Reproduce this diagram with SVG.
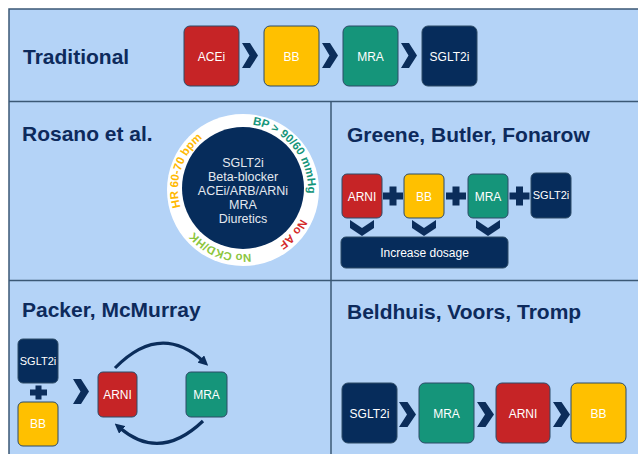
<svg xmlns="http://www.w3.org/2000/svg" xmlns:xlink="http://www.w3.org/1999/xlink" width="638" height="454" viewBox="0 0 638 454">
<style>
.title{font-family:"Liberation Sans",Arial,sans-serif;font-weight:bold;font-size:21px;fill:#0d2a5c}
.box{stroke:#2c4a66;stroke-width:1}
.red{fill:#c62426}
.yel{fill:#ffc000}
.grn{fill:#15957a}
.nav{fill:#062c5b}
.lbl{font-family:"Liberation Sans",Arial,sans-serif;font-size:12px;fill:#ffffff;text-anchor:middle}
.sm{font-size:11px}
.conn{fill:#0b2d5b}
.arc{fill:none;stroke:#0b2d5b;stroke-width:3.2}
.ctext{font-family:"Liberation Sans",Arial,sans-serif;font-size:12.5px;fill:#e3e8ef;text-anchor:middle}
.ring{font-family:"Liberation Sans",Arial,sans-serif;font-size:11.5px;font-weight:bold}
.bp{fill:#15957a}
.af{fill:#d42a2a}
.ckd{fill:#8cc63f}
.hr{fill:#ffb800}
.frame{stroke:#3b5875;stroke-width:1.5;fill:none}
</style>
<defs>
<path id="chev" d="M0,0 L8,0 L16,12.5 L8,25 L0,25 L7.5,12.5 Z"/>
<path id="chevL" d="M0,0 L8.5,0 L17,12.5 L8.5,25 L0,25 L8,12.5 Z"/>
<path id="down" d="M0,0 L12,8 L24,0 L24,8 L12,16 L0,8 Z"/>
<path id="plus" d="M-3.5,-9.5 H3.5 V-3.5 H10 V3.5 H3.5 V9.5 H-3.5 V3.5 H-10 V-3.5 H-3.5 Z"/>
<path id="ringpath" d="M243,124 A65,65 0 1 1 243,254 A65,65 0 1 1 243,124"/>
<marker id="ah" viewBox="0 0 10 10" refX="3" refY="5" markerWidth="10" markerHeight="10" markerUnits="userSpaceOnUse" orient="auto">
<path d="M0,0 L10,5 L0,10 Z" fill="#0b2d5b"/>
</marker>
</defs>
<rect x="0" y="0" width="638" height="454" fill="#ffffff"/>
<rect x="9" y="9" width="640" height="460" fill="#b4d3f7"/>
<g id="frame">
<rect class="frame" x="9" y="9" width="640" height="460"/>
<line class="frame" x1="9" y1="101.5" x2="638" y2="101.5"/>
<line class="frame" x1="9" y1="280.5" x2="638" y2="280.5"/>
<line class="frame" x1="331" y1="101.5" x2="331" y2="454"/>
</g>
<g id="titles">
<text class="title" x="23" y="64">Traditional</text>
<text class="title" x="22" y="141">Rosano et al.</text>
<text class="title" x="347" y="142">Greene, Butler, Fonarow</text>
<text class="title" x="22" y="317">Packer, McMurray</text>
<text class="title" x="347" y="319">Beldhuis, Voors, Tromp</text>
</g>
<g id="trad-acei"><rect class="box red" x="184" y="26" width="55" height="60" rx="6"/><text class="lbl" x="211.5" y="61">ACEi</text></g>
<g id="trad-bb"><rect class="box yel" x="264" y="26" width="55" height="60" rx="6"/><text class="lbl" x="291.5" y="61">BB</text></g>
<g id="trad-mra"><rect class="box grn" x="343" y="26" width="55" height="60" rx="6"/><text class="lbl" x="370.5" y="61">MRA</text></g>
<g id="trad-sglt2i"><rect class="box nav" x="422" y="26" width="55" height="60" rx="6"/><text class="lbl" x="449.5" y="61">SGLT2i</text></g>
<g id="rosano-circle">
<circle cx="243" cy="190" r="76" fill="#ffffff"/>
<circle cx="243" cy="188" r="61" fill="#062c5b"/>
<text class="ctext" x="243" y="167">SGLT2i</text>
<text class="ctext" x="243" y="181">Beta-blocker</text>
<text class="ctext" x="243" y="195">ACEi/ARB/ARNi</text>
<text class="ctext" x="243" y="209">MRA</text>
<text class="ctext" x="243" y="223">Diuretics</text>
<text class="ring bp"><textPath xlink:href="#ringpath" href="#ringpath" startOffset="9.5">BP &gt;</textPath></text>
<text class="ring bp"><textPath xlink:href="#ringpath" href="#ringpath" startOffset="38.6">90/60</textPath></text>
<text class="ring bp"><textPath xlink:href="#ringpath" href="#ringpath" startOffset="70.6">mmHg</textPath></text>
<text class="ring af"><textPath xlink:href="#ringpath" href="#ringpath" startOffset="132.7">No</textPath></text>
<text class="ring af"><textPath xlink:href="#ringpath" href="#ringpath" startOffset="151.2">AF</textPath></text>
<text class="ring ckd"><textPath xlink:href="#ringpath" href="#ringpath" startOffset="195.9">No</textPath></text>
<text class="ring ckd"><textPath xlink:href="#ringpath" href="#ringpath" startOffset="214.4">CKD/HK</textPath></text>
<text class="ring hr"><textPath xlink:href="#ringpath" href="#ringpath" startOffset="287.5">HR</textPath></text>
<text class="ring hr"><textPath xlink:href="#ringpath" href="#ringpath" startOffset="307.3">60-70</textPath></text>
<text class="ring hr"><textPath xlink:href="#ringpath" href="#ringpath" startOffset="339.9">bpm</textPath></text>
</g>
<g id="gbf-arni"><rect class="box red" x="342" y="174" width="40" height="44" rx="5"/><text class="lbl" x="362" y="201">ARNI</text></g>
<g id="gbf-bb"><rect class="box yel" x="404" y="174" width="40" height="44" rx="5"/><text class="lbl" x="424" y="201">BB</text></g>
<g id="gbf-mra"><rect class="box grn" x="468" y="174" width="40" height="44" rx="5"/><text class="lbl" x="488" y="201">MRA</text></g>
<g id="gbf-sglt2i"><rect class="box nav" x="531" y="173" width="40" height="45" rx="5"/><text class="lbl sm" x="551" y="199">SGLT2i</text></g>
<g id="gbf-dosage"><rect class="box nav" x="341" y="237" width="167" height="31" rx="5"/><text class="lbl" x="424.5" y="257">Increase dosage</text></g>
<g id="pm-sglt2i"><rect class="box nav" x="18" y="339" width="40" height="44" rx="5"/><text class="lbl sm" x="38" y="365">SGLT2i</text></g>
<g id="pm-bb"><rect class="box yel" x="18" y="402" width="40" height="44" rx="5"/><text class="lbl" x="38" y="428">BB</text></g>
<g id="pm-arni"><rect class="box red" x="98" y="372" width="39" height="45" rx="5"/><text class="lbl" x="117.5" y="399">ARNI</text></g>
<g id="pm-mra"><rect class="box grn" x="186" y="372" width="41" height="45" rx="5"/><text class="lbl" x="206.5" y="399">MRA</text></g>
<g id="bvt-sglt2i"><rect class="box nav" x="342" y="383" width="55" height="60" rx="6"/><text class="lbl" x="369.5" y="418">SGLT2i</text></g>
<g id="bvt-mra"><rect class="box grn" x="419" y="383" width="55" height="60" rx="6"/><text class="lbl" x="446.5" y="418">MRA</text></g>
<g id="bvt-arni"><rect class="box red" x="496" y="383" width="54" height="60" rx="6"/><text class="lbl" x="523" y="418">ARNI</text></g>
<g id="bvt-bb"><rect class="box yel" x="571" y="383" width="55" height="60" rx="6"/><text class="lbl" x="598.5" y="418">BB</text></g>
<g id="connectors" class="conn">
<use href="#chev" xlink:href="#chev" x="242" y="43"/>
<use href="#chev" xlink:href="#chev" x="322" y="43"/>
<use href="#chev" xlink:href="#chev" x="401" y="43"/>
<use href="#plus" xlink:href="#plus" x="393" y="196"/>
<use href="#plus" xlink:href="#plus" x="456" y="196"/>
<use href="#plus" xlink:href="#plus" x="519.5" y="196"/>
<use href="#down" xlink:href="#down" x="350" y="220"/>
<use href="#down" xlink:href="#down" x="412" y="220"/>
<use href="#down" xlink:href="#down" x="476" y="220"/>
<path d="M35.5,385.5 H41.5 V389.5 H47 V395.5 H41.5 V399.5 H35.5 V395.5 H30 V389.5 H35.5 Z"/>
<use href="#chev" xlink:href="#chev" x="73" y="379"/>
<path class="arc" d="M115,368 Q160,322 203,361" marker-end="url(#ah)"/>
<path class="arc" d="M203,421 Q160,462 120,428" marker-end="url(#ah)"/>
<use href="#chevL" xlink:href="#chevL" x="399" y="402"/>
<use href="#chevL" xlink:href="#chevL" x="477" y="402"/>
<use href="#chevL" xlink:href="#chevL" x="553" y="402"/>
</g>
</svg>
